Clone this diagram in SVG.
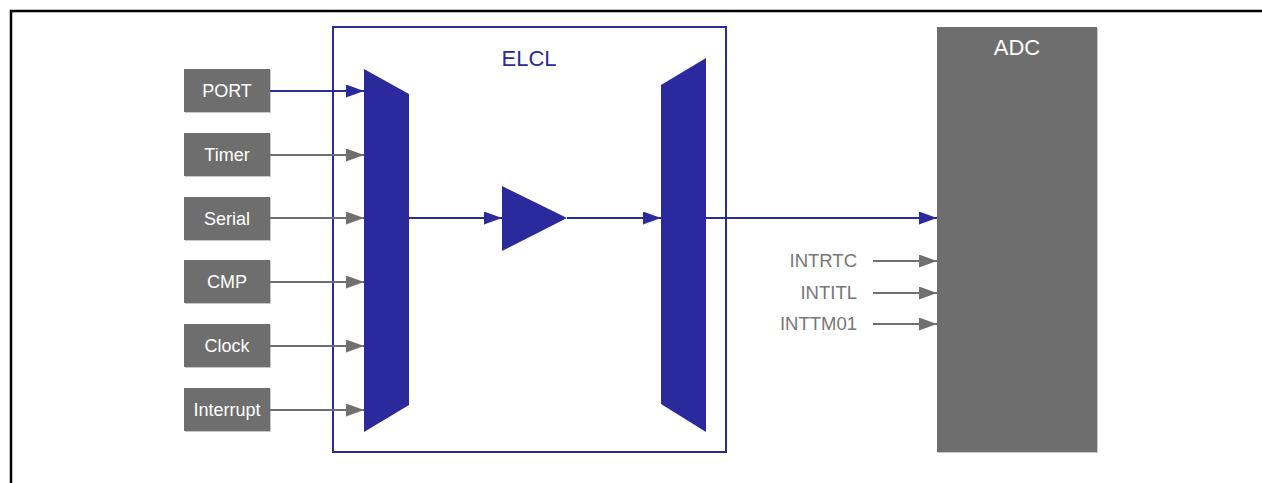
<svg xmlns="http://www.w3.org/2000/svg" width="1262" height="483" viewBox="0 0 1262 483">
<defs>
<style>
.frame{fill:none;stroke:#000;stroke-width:2.5}
.elcl{fill:none;stroke:#2a2a9c;stroke-width:2}
.mux{fill:#2a2a9c}
.box{fill:#6e6e6e}
.shadow{fill:#c8c8c8}
.boxtxt{font-family:"Liberation Sans",Arial,sans-serif;font-size:18px;fill:#fff;text-anchor:middle}
.title{font-family:"Liberation Sans",Arial,sans-serif;font-size:22px;text-anchor:middle}
.sig{font-family:"Liberation Sans",Arial,sans-serif;font-size:18.5px;fill:#777;text-anchor:end}
.bl{stroke:#2a2a9c;stroke-width:2;fill:none}
.gl{stroke:#707070;stroke-width:2;fill:none}
</style>
<marker id="ab" markerUnits="userSpaceOnUse" markerWidth="19" markerHeight="13" refX="18" refY="6.5" orient="auto">
<path d="M0,0 L18,6.5 L0,13 Z" fill="#2a2a9c"/>
</marker>
<marker id="ag" markerUnits="userSpaceOnUse" markerWidth="19" markerHeight="13" refX="18" refY="6.5" orient="auto">
<path d="M0,0 L18,6.5 L0,13 Z" fill="#707070"/>
</marker>
</defs>
<rect width="1262" height="483" fill="#fff"/>
<path class="frame" d="M11,483 V11 H1262"/>

<g id="elcl">
<rect class="elcl" x="333" y="27" width="393" height="425"/>
<text class="title" x="529" y="66" fill="#2a2a9c">ELCL</text>
</g>
<g id="mux-in"><polygon class="mux" points="364,69 409,94 409,405 364,432"/></g>
<g id="amp"><polygon class="mux" points="502,186 567,218 502,251"/></g>
<g id="mux-out"><polygon class="mux" points="661,85 706,58 706,432 661,404"/></g>

<g id="port"><rect class="shadow" x="185" y="70" width="86" height="43"/><rect class="box" x="184" y="69" width="86" height="43"/><text class="boxtxt" x="227" y="97">PORT</text></g>
<g id="timer"><rect class="shadow" x="185" y="134" width="86" height="43"/><rect class="box" x="184" y="133" width="86" height="43"/><text class="boxtxt" x="227" y="161">Timer</text></g>
<g id="serial"><rect class="shadow" x="185" y="198" width="86" height="43"/><rect class="box" x="184" y="197" width="86" height="43"/><text class="boxtxt" x="227" y="225">Serial</text></g>
<g id="cmp"><rect class="shadow" x="185" y="261" width="86" height="43"/><rect class="box" x="184" y="260" width="86" height="43"/><text class="boxtxt" x="227" y="288">CMP</text></g>
<g id="clock"><rect class="shadow" x="185" y="325" width="86" height="43"/><rect class="box" x="184" y="324" width="86" height="43"/><text class="boxtxt" x="227" y="352">Clock</text></g>
<g id="interrupt"><rect class="shadow" x="185" y="389" width="86" height="43"/><rect class="box" x="184" y="388" width="86" height="43"/><text class="boxtxt" x="227" y="416">Interrupt</text></g>

<g id="adc">
<rect class="shadow" x="938" y="28" width="160" height="425"/>
<rect class="box" x="937" y="27" width="160" height="425"/>
<text class="title" x="1017" y="55" fill="#fff">ADC</text>
</g>

<g id="labels">
<text class="sig" x="857" y="267">INTRTC</text>
<text class="sig" x="857" y="299">INTITL</text>
<text class="sig" x="857" y="330">INTTM01</text>
</g>

<g id="connectors">
<line class="bl" x1="270" y1="91" x2="364" y2="91" marker-end="url(#ab)"/>
<line class="gl" x1="270" y1="155" x2="364" y2="155" marker-end="url(#ag)"/>
<line class="gl" x1="270" y1="218" x2="364" y2="218" marker-end="url(#ag)"/>
<line class="gl" x1="270" y1="282" x2="364" y2="282" marker-end="url(#ag)"/>
<line class="gl" x1="270" y1="346" x2="364" y2="346" marker-end="url(#ag)"/>
<line class="gl" x1="270" y1="410" x2="364" y2="410" marker-end="url(#ag)"/>
<line class="bl" x1="409" y1="218" x2="502" y2="218" marker-end="url(#ab)"/>
<line class="bl" x1="567" y1="218" x2="661" y2="218" marker-end="url(#ab)"/>
<line class="bl" x1="706" y1="218" x2="937" y2="218" marker-end="url(#ab)"/>
<line class="gl" x1="873" y1="261" x2="937" y2="261" marker-end="url(#ag)"/>
<line class="gl" x1="873" y1="293" x2="937" y2="293" marker-end="url(#ag)"/>
<line class="gl" x1="873" y1="324" x2="937" y2="324" marker-end="url(#ag)"/>
</g>
</svg>
